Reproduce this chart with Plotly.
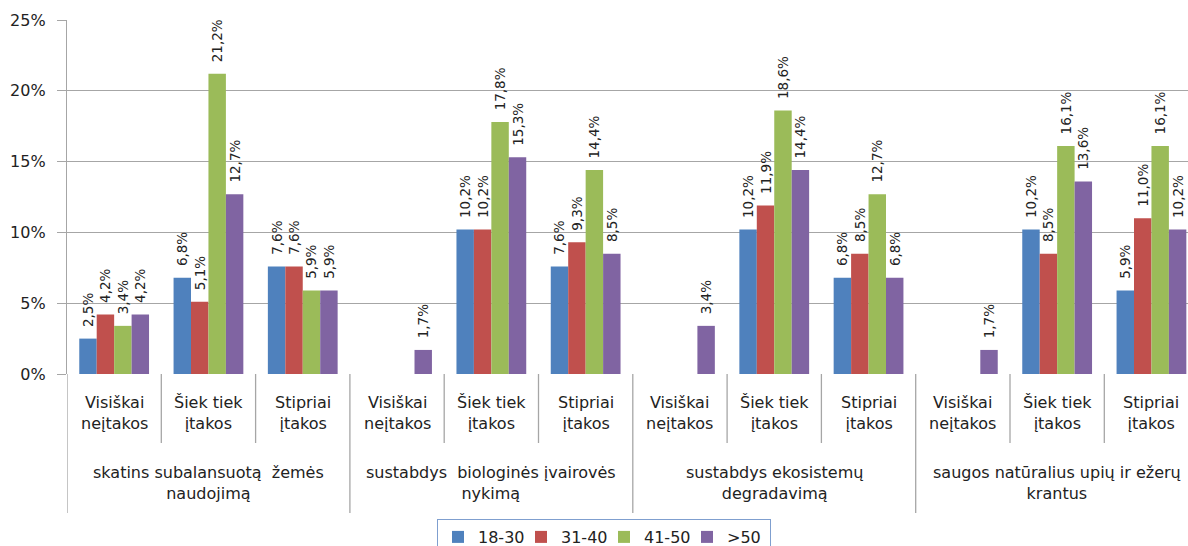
import plotly.graph_objects as go

groups = [
    "skatins subalansuotą\u00a0 žemės<br>naudojimą",
    "sustabdys\u00a0 biologinės įvairovės<br>nykimą",
    "sustabdys ekosistemų<br>degradavimą",
    "saugos natūralius upių ir ežerų<br>krantus",
]
subcats = ["Visiškai<br>neįtakos", "Šiek tiek<br>įtakos", "Stipriai<br>įtakos"]
series_names = ["18-30", "31-40", "41-50", ">50"]
colors = ["#4F81BD", "#C0504D", "#9BBB59", "#8064A2"]

# values per series, ordered group by group, subcategory by subcategory (%)
v_18_30 = [2.5, 6.8, 7.6, None, 10.2, 7.6, None, 10.2, 6.8, None, 10.2, 5.9]
v_31_40 = [4.2, 5.1, 7.6, None, 10.2, 9.3, None, 11.9, 8.5, None, 8.5, 11.0]
v_41_50 = [3.4, 21.2, 5.9, None, 17.8, 14.4, None, 18.6, 12.7, None, 16.1, 16.1]
v_50 = [4.2, 12.7, 5.9, 1.7, 15.3, 8.5, 3.4, 14.4, 6.8, 1.7, 13.6, 10.2]
series_values = [v_18_30, v_31_40, v_41_50, v_50]

y_ticks = [0, 5, 10, 15, 20, 25]
y_tick_labels = ["0%", "5%", "10%", "15%", "20%", "25%"]

W, H = 1188, 546
left, top, bottom_px = 67, 20, 374
slot_px = 94.3
n_slots = len(groups) * len(subcats)
x_positions = list(range(n_slots))
x_max = -0.5 + (W - left) / slot_px
plot_h = bottom_px - top

def py(pix):
    return (bottom_px - pix) / plot_h

FONT = "DejaVu Sans"
TXT = "#222222"
GRID = "#A6A6A6"

fig = go.Figure()
for name, vals, col in zip(series_names, series_values, colors):
    fig.add_trace(go.Bar(
        x=x_positions, y=vals, name=name,
        marker=dict(color=col, line=dict(width=0)),
        texttemplate="\u00a0\u00a0%{y:.1f}%",
        textposition="outside", textangle=-90,
        textfont=dict(family=FONT, size=13.5, color=TXT),
        constraintext="none", cliponaxis=False,
        hoverinfo="skip",
    ))

shapes = []
annotations = []
n_sub = len(subcats)
for i in range(n_slots + 1):
    xb = i - 0.5
    is_group = (i % n_sub == 0)
    y1 = py(513) if is_group else py(443)
    shapes.append(dict(type="line", xref="x", yref="paper", x0=xb, x1=xb,
                       y0=0, y1=y1, line=dict(color=GRID, width=1.3)))

for i in range(n_slots):
    annotations.append(dict(
        x=i, y=py(413), xref="x", yref="paper", text=subcats[i % n_sub],
        showarrow=False, xanchor="center", yanchor="middle",
        font=dict(family=FONT, size=16, color=TXT), align="center"))

for g, label in enumerate(groups):
    annotations.append(dict(
        x=g * n_sub + (n_sub - 1) / 2, y=py(482.5), xref="x", yref="paper",
        text=label, showarrow=False, xanchor="center", yanchor="middle",
        font=dict(family=FONT, size=16, color=TXT), align="center"))

fig.update_layout(
    width=W, height=H,
    margin=dict(l=left, r=0, t=top, b=H - bottom_px, pad=0, autoexpand=False),
    paper_bgcolor="white", plot_bgcolor="white",
    barmode="group", bargap=0.26, bargroupgap=0,
    separators=",.",
    showlegend=True,
    legend=dict(orientation="h", x=(437 - left) / (W - left), y=py(519),
                xanchor="left", yanchor="top",
                bordercolor="#7F9FCF", borderwidth=1, bgcolor="white",
                font=dict(family=FONT, size=16, color=TXT),
                entrywidth=38, itemclick=False),
    shapes=shapes, annotations=annotations,
    xaxis=dict(range=[-0.5, x_max], showticklabels=False, showgrid=False,
               zeroline=False, showline=False, ticks="", fixedrange=True,
               automargin=False),
    yaxis=dict(range=[0, 25], tickmode="array", tickvals=y_ticks,
               ticktext=y_tick_labels, automargin=False,
               showgrid=True, gridcolor=GRID, gridwidth=1,
               zeroline=False, showline=True, linecolor=GRID, linewidth=1.3,
               ticks="outside", ticklen=9, tickcolor=GRID, ticklabelstandoff=8,
               tickfont=dict(family=FONT, size=16, color=TXT)),
    font=dict(family=FONT, color=TXT),
)

fig.write_html("out.html",
               config={"displayModeBar": False},
               post_script="document.body.style.margin='0';"
                           "document.body.style.overflow='hidden';")
